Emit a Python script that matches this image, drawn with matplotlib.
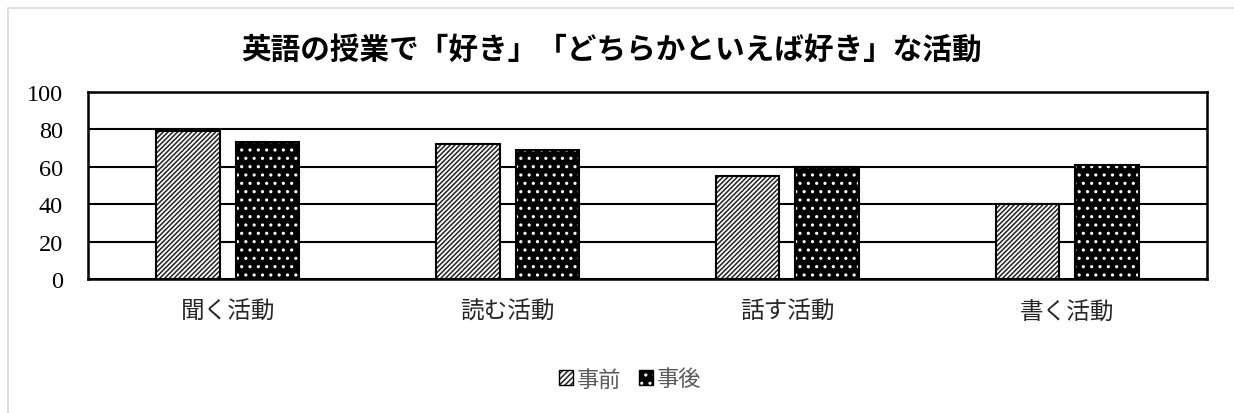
import matplotlib
matplotlib.use("Agg")
import matplotlib.pyplot as plt
from matplotlib.patches import Rectangle, Patch
from matplotlib.legend_handler import HandlerTuple
import numpy as np

categories = ["聞く活動", "読む活動", "話す活動", "書く活動"]
series_names = ["事前", "事後"]
before = [79, 72, 55, 40]
after = [73, 69, 60, 61]
yticks = [0, 20, 40, 60, 80, 100]
title = "英語の授業で「好き」「どちらかといえば好き」な活動"

plt.rcParams['font.family'] = ['Noto Sans CJK JP', 'DejaVu Sans']
plt.rcParams['hatch.linewidth'] = 1.1

fig = plt.figure(figsize=(12.34, 4.14), dpi=100)
fig.patches.append(Rectangle((8/1234, -0.1), 1.2, 1 - 9/414 + 0.1, transform=fig.transFigure,
                             fill=False, edgecolor='#d9d9d9', linewidth=1.2))

ax = fig.add_axes([88/1234, 1 - 280/414, (1207-88)/1234, (280-93)/414])
x = np.arange(len(categories))
w = 0.227
off = 0.142

hatch_a = '///////'
hatch_b = '..'
ax.bar(x - off, before, w, facecolor='white', edgecolor='#222222', hatch=hatch_a, linewidth=0, zorder=3)
ax.bar(x - off, before, w, fill=False, edgecolor='black', linewidth=1.5, zorder=4)
ax.bar(x + off, after, w, facecolor='black', edgecolor='white', hatch=hatch_b, linewidth=0, zorder=3)
ax.bar(x + off, after, w, fill=False, edgecolor='black', linewidth=1.5, zorder=4)

ax.set_xlim(-0.5, len(categories) - 0.5)
ax.set_ylim(0, 100)
ax.set_yticks(yticks)
ax.set_yticklabels([str(v) for v in yticks], fontfamily='Liberation Serif', fontsize=17.5)
ax.set_xticks(x)
ax.set_xticklabels(categories, fontsize=17, color='#262626')
ax.tick_params(axis='both', length=0)
ax.tick_params(axis='y', pad=18)
ax.tick_params(axis='x', pad=15)
ax.grid(axis='y', color='black', linewidth=1.5, zorder=0)
for s in ax.spines.values():
    s.set_linewidth(1.8)
    s.set_color('black')

fig.text(0.4955, 1 - 50/414, title, ha='center', va='center', fontsize=21.3, fontweight='bold')

h1 = (Patch(facecolor='white', edgecolor='#222222', hatch='//////', linewidth=0),
      Patch(fill=False, edgecolor='black', linewidth=1.0))
h2 = (Patch(facecolor='black', edgecolor='white', hatch='..', linewidth=0),
      Patch(fill=False, edgecolor='black', linewidth=1.0))
leg = fig.legend([h1, h2], series_names, handler_map={tuple: HandlerTuple(ndivide=1, pad=0)},
                 loc='center', bbox_to_anchor=(630/1234, 1 - 380/414), ncol=2, frameon=False,
                 fontsize=16, handlelength=0.65, handleheight=0.65, handletextpad=0.15, columnspacing=0.8)
for t in leg.get_texts():
    t.set_color('#595959')

fig.savefig("out.png", dpi=100)
